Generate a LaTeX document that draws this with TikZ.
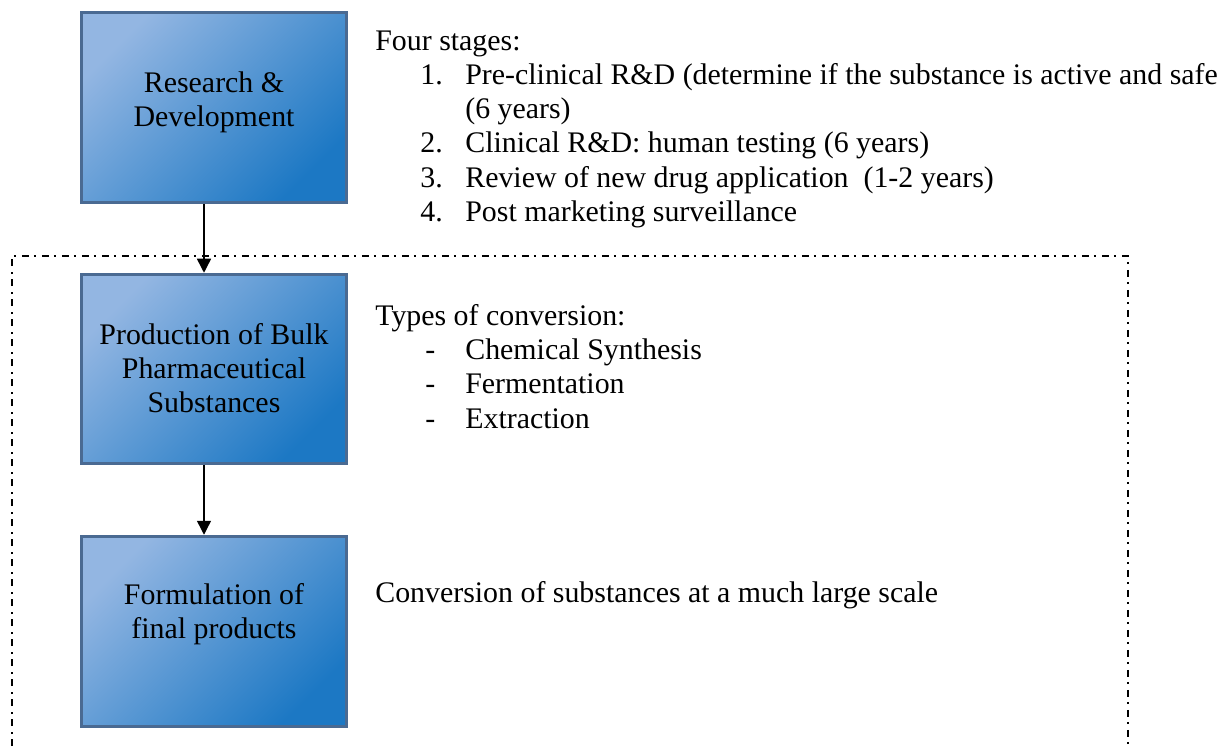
\documentclass[tikz,border=0pt]{standalone}
\usepackage{fontspec}
\setmainfont{Liberation Serif}
\usetikzlibrary{positioning,arrows.meta,calc}
\definecolor{boxlight}{HTML}{93B6E2}
\definecolor{boxmid}{HTML}{4E91D2}
\definecolor{boxdark}{HTML}{1C78C4}
\definecolor{boxedge}{HTML}{4A6A92}
\tikzset{
    stage/.style = {
        draw=boxedge,
        shape=rectangle,
        line width=2pt,
        top color=boxlight,
        middle color=boxmid,
        bottom color=boxdark,
        shading angle=45,
        minimum width=5.3cm,
        minimum height=3.8cm,
        inner sep=0pt
    },
    stagetext/.style = {
        align=center,
        font=\fontsize{17}{19.4}\selectfont
    },
    note/.style = {
        anchor=base west,
        inner sep=0pt,
        font=\fontsize{17}{19.4}\selectfont
    },
    frame/.style = {
        line width=0.85pt,
        dash pattern=on 0.14cm off 0.1cm on 0.04cm off 0.12cm
    },
    >={Triangle[length=0.28cm,width=0.28cm]},
}

\begin{document}
\begin{tikzpicture}
    \useasboundingbox (0,0) rectangle (24.54,-14.92);

    % dash-dot frame round the production steps
    \coordinate (fbl) at (0.24,-14.92);
    \coordinate (ftr) at (22.56,-5.12);
    \draw[frame] (fbl) |- (ftr) -- (ftr |- fbl);

    \node[stage] (rd) at (4.28,-2.15) {};
    \node[stage, minimum height=3.78cm] (bulk) at (4.28,-7.38) {};
    \node[stage] (form) at (4.28,-12.63) {};

    \node[stagetext] (rdtxt) at (4.28,-2.04) {Research \&\\Development};
    \node[stagetext] (bulktxt) at (4.28,-7.37) {Production of Bulk\\Pharmaceutical\\Substances};
    \node[stagetext] (formtxt) at (4.28,-12.29) {Formulation of\\final products};

    \path[draw, ->, line width=0.8pt] ([xshift=-0.2cm]rd.south) -- ([xshift=-0.2cm]bulk.north);
    \path[draw, ->, line width=0.8pt] ([xshift=-0.2cm]bulk.south) -- ([xshift=-0.2cm]form.north);

    % stages of research
    \node[note] (stages) at (7.5,-1.0) {Four stages:};
    \node[note] (n1) at (8.4,-1.68) {1.};
    \node[note] (s1) at (9.3,-1.68) {Pre-clinical R\&D (determine if the substance is active and safe};
    \node[note] (s1b) at (9.3,-2.36) {(6 years)};
    \node[note] (n2) at (8.4,-3.04) {2.};
    \node[note] (s2) at (9.3,-3.04) {Clinical R\&D: human testing (6 years)};
    \node[note] (n3) at (8.4,-3.74) {3.};
    \node[note] (s3) at (9.3,-3.74) {Review of new drug application\ \ (1-2 years)};
    \node[note] (n4) at (8.4,-4.42) {4.};
    \node[note] (s4) at (9.3,-4.42) {Post marketing surveillance};

    % conversion types
    \node[note] (types) at (7.5,-6.5) {Types of conversion:};
    \node[note] (d1) at (8.5,-7.18) {-};
    \node[note] (t1) at (9.3,-7.18) {Chemical Synthesis};
    \node[note] (d2) at (8.5,-7.86) {-};
    \node[note] (t2) at (9.3,-7.86) {Fermentation};
    \node[note] (d3) at (8.5,-8.56) {-};
    \node[note] (t3) at (9.3,-8.56) {Extraction};

    \node[note] (scale) at (7.5,-12.04) {Conversion of substances at a much large scale};
\end{tikzpicture}
\end{document}
